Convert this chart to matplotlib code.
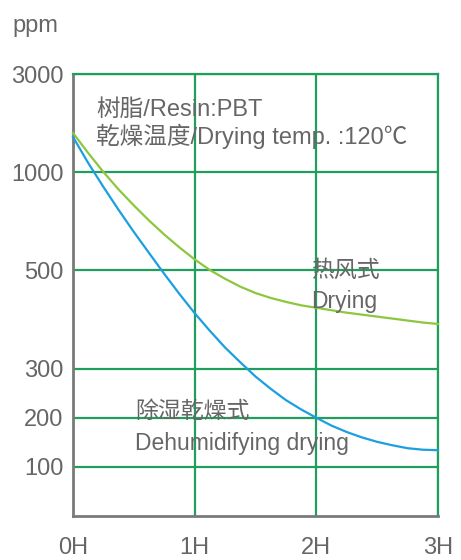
import numpy as np
import matplotlib
matplotlib.use("Agg")
import matplotlib.pyplot as plt

plt.rcParams['font.family'] = ['Liberation Sans', 'Noto Sans CJK SC', 'DejaVu Sans']

# data (ppm vs drying hours)
hours = [0, 0.125, 0.25, 0.375, 0.5, 0.625, 0.75, 0.875, 1, 1.125, 1.25, 1.375,
         1.5, 1.625, 1.75, 1.875, 2, 2.125, 2.25, 2.375, 2.5, 2.625, 2.75, 2.875, 3]
hot_air = [1800, 1391, 1004, 912, 831, 754, 683, 617, 556, 502, 483, 467,
           454, 444, 436, 429, 424, 419, 414, 410, 406, 402, 398, 394, 391]
dehumid = [1717, 1188, 925, 808, 696, 589, 493, 452, 413, 377, 343, 313,
           284, 259, 236, 217, 200, 184, 171, 160, 151, 144, 138, 135, 134]

y_ticks = [100, 200, 300, 500, 1000, 3000]
x_ticks = [0, 1, 2, 3]
x_labels = ['0H', '1H', '2H', '3H']

# the chart uses an uneven, hand-made y scale
scale_ppm = [0, 100, 200, 300, 500, 1000, 3000]
scale_pos = [0, 1, 2, 3, 5, 7, 9]

def fwd(v):
    return np.interp(v, scale_ppm, scale_pos)

def inv(p):
    return np.interp(p, scale_pos, scale_ppm)

grid_green = '#1f9e5c'
text_grey = '#666666'
axis_grey = '#7a7a7a'

fig = plt.figure(figsize=(4.61, 5.60), dpi=100)
ax = fig.add_axes([73 / 461, 44 / 560, 365 / 461, 442 / 560])
ax.set_yscale('function', functions=(fwd, inv))

ax.plot(hours, hot_air, color='#8dc63f', lw=1.6, zorder=3, clip_on=False,
        solid_joinstyle='round')
ax.plot(hours, dehumid, color='#1c9fe0', lw=1.6, zorder=3, clip_on=False,
        solid_joinstyle='round')

ax.set_xlim(0, 3)
ax.set_ylim(0, 3000)
ax.set_yticks(y_ticks)
ax.set_yticklabels([str(v) for v in y_ticks])
ax.set_xticks(x_ticks)
ax.set_xticklabels(x_labels)
ax.yaxis.set_minor_locator(plt.NullLocator())
ax.tick_params(axis='both', length=0, labelsize=17, colors=text_grey)
ax.tick_params(axis='y', pad=7)
ax.tick_params(axis='x', pad=15)
ax.grid(True, color=grid_green, lw=1.6)

for side in ['top', 'right']:
    ax.spines[side].set_color(grid_green)
    ax.spines[side].set_linewidth(1.6)
for side in ['left', 'bottom']:
    ax.spines[side].set_color(axis_grey)
    ax.spines[side].set_linewidth(2)

fig.text(12 / 461, 1 - 26 / 560, 'ppm', fontsize=17, color=text_grey, va='center')

ax.text(0.19, 2260, '树脂/Resin:PBT', fontsize=17, color=text_grey, va='center')
ax.text(0.19, 1740, '乾燥温度/Drying temp. :120℃', fontsize=17, color=text_grey, va='center')
ax.text(1.96, 500, '热风式', fontsize=16.5, color=text_grey, va='center')
ax.text(1.96, 437, 'Drying', fontsize=16.5, color=text_grey, va='center')
ax.text(0.51, 212, '除湿乾燥式', fontsize=16.5, color=text_grey, va='center')
ax.text(0.51, 148, 'Dehumidifying drying', fontsize=16.5, color=text_grey, va='center')

fig.savefig('out.png', dpi=100)
